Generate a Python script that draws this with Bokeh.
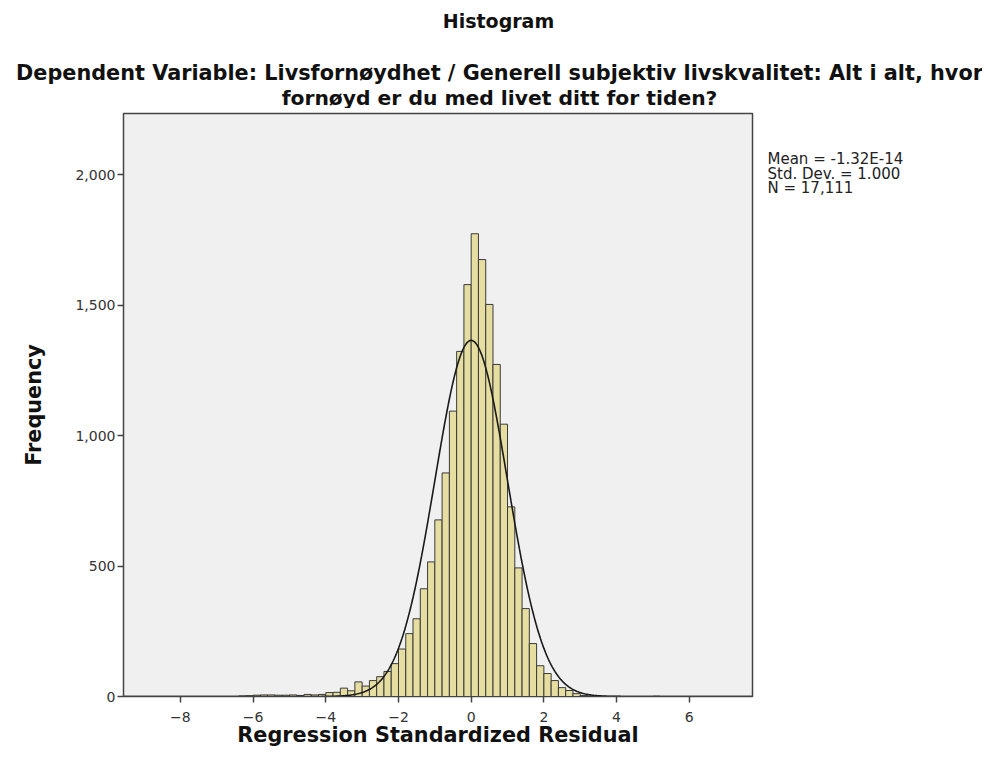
import numpy as np
from bokeh.plotting import figure
from bokeh.layouts import column, row
from bokeh.models import NumeralTickFormatter, FixedTicker, Range1d, ColumnDataSource
from bokeh.core.properties import value
from bokeh.embed import file_html
from bokeh.resources import INLINE

# --- data ---
bin_left = [-6.4, -6.2, -6.0, -5.8, -5.6, -5.4, -5.2, -5.0, -4.8, -4.6, -4.4, -4.2,
            -4.0, -3.8, -3.6, -3.4, -3.2, -3.0, -2.8, -2.6, -2.4, -2.2,
            -2.0, -1.8, -1.6, -1.4, -1.2, -1.0, -0.8, -0.6, -0.4, -0.2,
            0.0, 0.2, 0.4, 0.6, 0.8, 1.0, 1.2, 1.4, 1.6, 1.8,
            2.0, 2.2, 2.4, 2.6, 2.8, 3.0, 3.2, 5.0]
counts = [2, 3, 5, 6, 6, 5, 5, 6, 4, 8, 6, 8,
          15, 16, 32, 22, 56, 40, 61, 76, 96, 126,
          182, 241, 298, 413, 516, 677, 857, 1094, 1323, 1579,
          1774, 1675, 1503, 1273, 1044, 727, 493, 337, 203, 118,
          88, 61, 34, 23, 11, 4, 2, 1]
bin_width = 0.2
stat_mean = -1.32e-14
stat_sd = 1.000
stat_n = 17111
x_ticks = [-8, -6, -4, -2, 0, 2, 4, 6]
y_ticks = [0, 500, 1000, 1500, 2000]

title_lines = ["Histogram",
               "Dependent Variable: Livsfornøydhet / Generell subjektiv livskvalitet: Alt i alt, hvor",
               "fornøyd er du med livet ditt for tiden?"]
stats_lines = ["Mean = -1.32E-14", "Std. Dev. = 1.000", "N = 17,111"]

FONT = "DejaVu Sans"

TOTAL_W = 982
HEAD_H = 108
MAIN_W = 754
MAIN_H = 647
SIDE_W = TOTAL_W - MAIN_W


def blank(w, h, xr, yr):
    f = figure(width=w, height=h, output_backend="svg", toolbar_location=None,
               x_range=xr, y_range=yr, min_border=0)
    f.axis.visible = False
    f.xgrid.visible = False
    f.ygrid.visible = False
    f.outline_line_color = None
    f.background_fill_color = "white"
    f.border_fill_color = "white"
    return f


# ---- heading ----
head = blank(TOTAL_W, HEAD_H, Range1d(0, TOTAL_W), Range1d(HEAD_H, 0))
head_src = ColumnDataSource(dict(x=[498, 499, 499], y=[20, 72, 97], t=title_lines,
                                 s=["19px", "20.8px", "20.3px"]))
head.text(x="x", y="y", text="t", source=head_src, text_font=value(FONT),
          text_font_size="s", text_font_style="bold", text_align="center",
          text_baseline="middle", text_color="#111111")

# ---- main plot ----
p = figure(width=MAIN_W, height=MAIN_H, output_backend="svg", toolbar_location=None,
           x_range=Range1d(-9.566, 7.74), y_range=Range1d(0, 2235),
           min_border_left=123, min_border_right=2,
           min_border_top=5, min_border_bottom=59)
p.background_fill_color = "#F0F0F0"
p.border_fill_color = "white"
p.outline_line_color = "#444444"
p.outline_line_width = 1.5
p.xgrid.visible = False
p.ygrid.visible = False

bl = np.array(bin_left)
p.quad(left=bl, right=bl + bin_width, bottom=0, top=counts,
       fill_color="#E6DEA0", line_color="#3a3a3a", line_width=1)

# normal curve from the reported statistics
xs = np.linspace(-9.566, 7.74, 600)
ys = stat_n * bin_width * np.exp(-0.5 * ((xs - stat_mean) / stat_sd) ** 2) / (stat_sd * np.sqrt(2 * np.pi))
p.line(xs, ys, line_color="#1a1a1a", line_width=1.6)

for ax in (p.xaxis[0], p.yaxis[0]):
    ax.major_label_text_font = FONT
    ax.major_label_text_font_size = "14px"
    ax.major_label_text_color = "#333333"
    ax.axis_label_text_font = FONT
    ax.axis_label_text_font_style = "bold"
    ax.axis_label_text_font_size = "20.8px"
    ax.axis_label_text_color = "#111111"
    ax.axis_line_color = "#444444"
    ax.major_tick_line_color = "#444444"
    ax.major_tick_line_width = 1.5
    ax.major_tick_out = 6
    ax.major_tick_in = 0
    ax.minor_tick_out = 0
    ax.minor_tick_in = 0

p.xaxis.ticker = FixedTicker(ticks=x_ticks)
p.yaxis.ticker = FixedTicker(ticks=y_ticks)
p.yaxis.formatter = NumeralTickFormatter(format="0,0")
p.xaxis.axis_label = "Regression Standardized Residual"
p.yaxis.axis_label = "Frequency"
p.xaxis.major_label_standoff = 9
p.yaxis.major_label_standoff = 2
p.xaxis.axis_label_standoff = -2
p.yaxis.axis_label_standoff = 26

# ---- stats box on the right ----
side = blank(SIDE_W, MAIN_H, Range1d(0, SIDE_W), Range1d(MAIN_H, 0))
side_src = ColumnDataSource(dict(x=[13, 13, 13], y=[50, 67, 83], t=stats_lines))
side.text(x="x", y="y", text="t", source=side_src, text_font=value(FONT),
          text_font_size="15px", text_align="left", text_baseline="middle",
          text_color="#222222")

layout = column(head, row(p, side, spacing=0), spacing=0)
open("out.html", "w").write(file_html(layout, INLINE))
